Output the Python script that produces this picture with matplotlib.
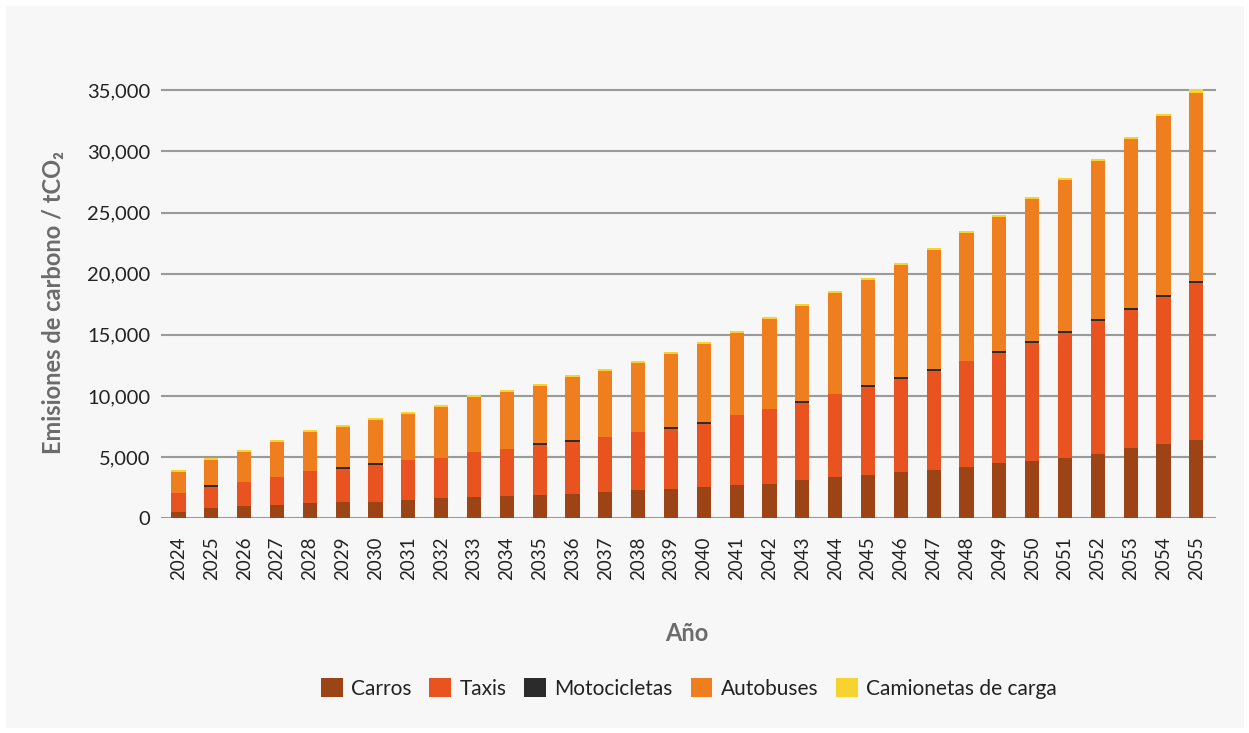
import numpy as np
import matplotlib.pyplot as plt
from matplotlib.patches import Rectangle

# Values (tCO2 per segment)
years = list(range(2024, 2056))
carros = [520, 840, 1010, 1090, 1250, 1340, 1340, 1500, 1670, 1750, 1830, 1910,
          2000, 2150, 2320, 2400, 2560, 2725, 2810, 3130, 3380, 3540, 3790, 3950,
          4195, 4520, 4685, 4930, 5260, 5750, 6075, 6400]
taxis = [1550, 1720, 1970, 2300, 2630, 2700, 3030, 3280, 3270, 3690, 3850, 4100,
         4250, 4500, 4740, 4900, 5150, 5725, 6130, 6300, 6780, 7200, 7600, 8090,
         8665, 8990, 9645, 10215, 10870, 11275, 12015, 12830]
motocicletas = [0, 160, 0, 0, 0, 160, 160, 0, 0, 0, 0, 160,
                160, 0, 0, 160, 160, 0, 0, 160, 0, 160, 160, 160,
                0, 160, 160, 160, 160, 160, 160, 160]
autobuses = [1730, 2060, 2460, 2860, 3190, 3290, 3530, 3770, 4190, 4510, 4680, 4680,
             5180, 5395, 5640, 5970, 6380, 6700, 7360, 7770, 8260, 8580, 9160, 9730,
             10460, 10955, 11610, 12345, 12910, 13815, 14630, 15370]
camionetas = [160] * 31 + [325]

series = [
    ("Carros", carros, "#9c4416"),
    ("Taxis", taxis, "#e8531f"),
    ("Motocicletas", motocicletas, "#2b2b2b"),
    ("Autobuses", autobuses, "#ef7f1e"),
    ("Camionetas de carga", camionetas, "#f8d32f"),
]

plt.rcParams["font.family"] = ["Lato", "DejaVu Sans"]

fig = plt.figure(figsize=(12.49, 7.33), dpi=100, facecolor="white")
# light grey panel behind everything
fig.patches.append(Rectangle((6 / 1249, 5 / 733), 1238 / 1249, 722 / 733,
                             transform=fig.transFigure, facecolor="#f7f7f7",
                             edgecolor="none", zorder=-10))

ax = fig.add_axes([0.129, 0.2929, 0.8446, 0.6007])
ax.set_facecolor("none")

x = np.arange(len(years))
bottom = np.zeros(len(years))
for name, vals, color in series:
    vals = np.array(vals, dtype=float)
    ax.bar(x, vals, bottom=bottom, width=0.43, color=color, label=name, zorder=3)
    bottom += vals

ax.set_xlim(-0.53, len(years) - 1 + 0.6)
ax.set_ylim(0, 36000)
ax.set_yticks(np.arange(0, 35001, 5000))
ax.set_yticklabels([f"{v:,}" for v in range(0, 35001, 5000)])
ax.set_xticks(x)
ax.set_xticklabels([str(y) for y in years], rotation=90)

ax.grid(axis="y", color="#9a9a9a", linewidth=1.5, zorder=1)
ax.set_axisbelow(True)
for s in ax.spines.values():
    s.set_visible(False)
ax.tick_params(axis="y", length=0, pad=8, labelsize=14.5, labelcolor="#222222")
ax.tick_params(axis="x", length=0, pad=13, labelsize=13.5, labelcolor="#222222")

ax.set_ylabel("Emisiones de carbono / tCO₂", fontsize=17, fontweight="bold",
              color="#6b6b6b")
ax.yaxis.set_label_coords(-0.091, 0.49)
ax.set_xlabel("Año", fontsize=17, fontweight="bold", color="#6b6b6b")
ax.xaxis.set_label_coords(0.4986, -0.236)

fig.legend(loc="center", bbox_to_anchor=(0.5516, 0.061), ncol=5, frameon=False,
           fontsize=15, handlelength=1.05, handleheight=1.0, handletextpad=0.4,
           columnspacing=0.85, labelcolor="#222222")

fig.savefig("out.png", dpi=100, facecolor="white")
